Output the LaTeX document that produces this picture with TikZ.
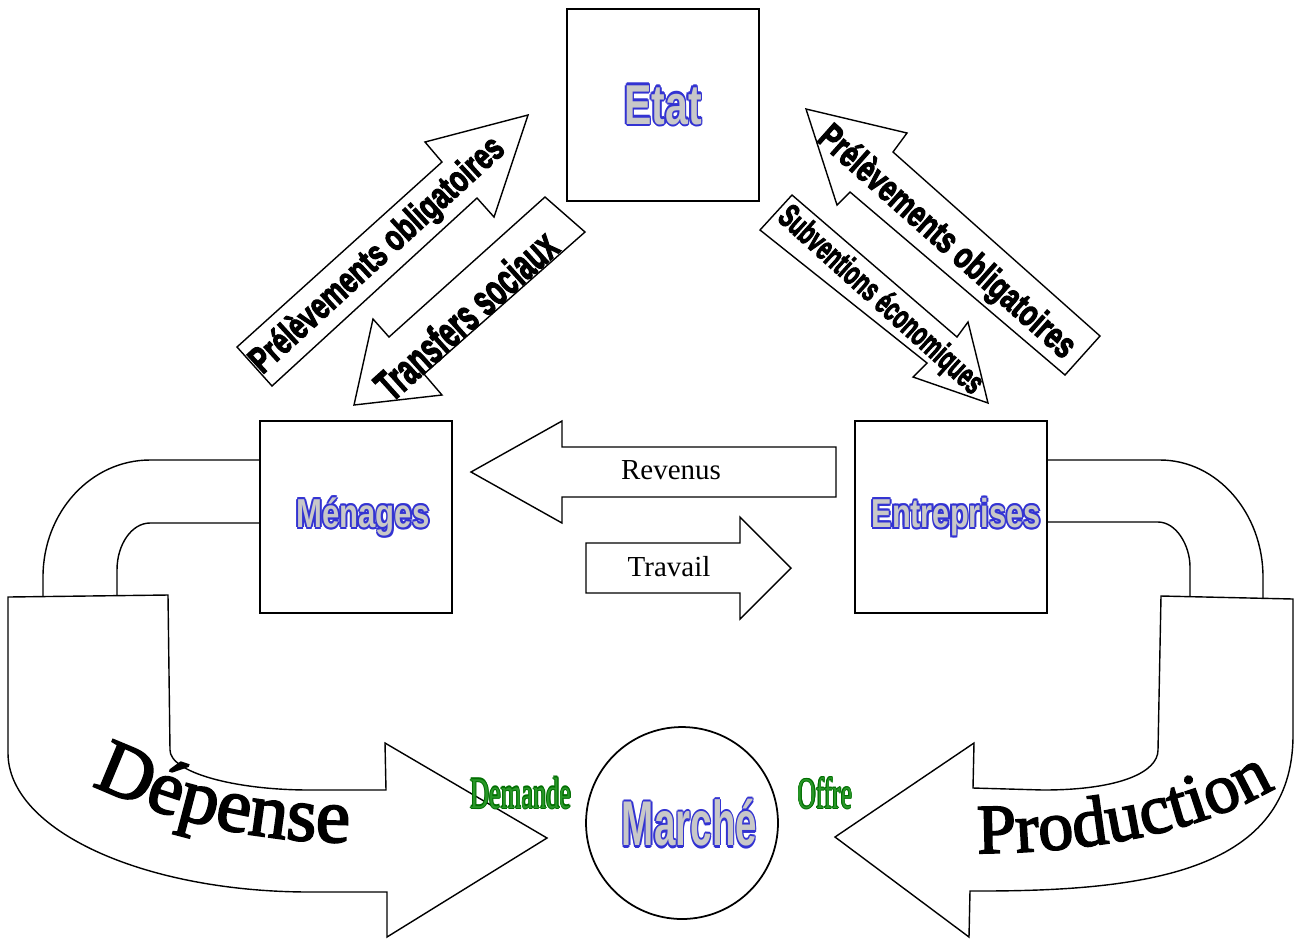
\documentclass[tikz,border=0pt]{standalone}
\usepackage{fontspec}
\usepackage{graphicx}
\setmainfont{Liberation Serif}
\newfontfamily\artin{Liberation Sans Bold}
\newfontfamily\heavyfont{Liberation Sans Bold}[FakeBold=3.5]
\newfontfamily\greenin{Liberation Serif}
\newfontfamily\curvyfont{Liberation Serif}[FakeBold=2.5]
\usetikzlibrary{decorations.text}
\definecolor{artblue}{RGB}{51,51,210}
\definecolor{artgray}{RGB}{200,200,200}
\definecolor{greenedge}{RGB}{0,110,0}
\definecolor{greenfill}{RGB}{40,150,40}

\newcommand\edgetext[5]{%
  \rlap{\color{#1}\raisebox{#3}{#5}}%
  \rlap{\color{#1}\raisebox{-#3}{#5}}%
  \rlap{\color{#1}\hspace*{#3}#5}%
  \rlap{\color{#1}\hspace*{-#3}#5}%
  \rlap{\color{#1}\hspace*{#4}\raisebox{#4}{#5}}%
  \rlap{\color{#1}\hspace*{-#4}\raisebox{#4}{#5}}%
  \rlap{\color{#1}\hspace*{#4}\raisebox{-#4}{#5}}%
  \rlap{\color{#1}\hspace*{-#4}\raisebox{-#4}{#5}}%
  {\color{#2}#5}}
\newcommand\wordart[3]{\scalebox{#2}[1]{\artin\fontsize{#1}{#1}\selectfont\edgetext{artblue}{artgray}{1.3pt}{0.9pt}{#3}}}
\newcommand\greenart[2]{\scalebox{#1}[1]{\greenin\fontsize{25}{25}\selectfont\edgetext{greenedge}{greenfill}{0.6pt}{0.4pt}{#2}}}
\newcommand\heavytext[3]{\scalebox{#2}[1]{\heavyfont\fontsize{#1}{#1}\selectfont #3}}

\tikzset{
  box/.style={draw, line width=1pt, minimum size=3.84cm, inner sep=0pt},
  flow/.style={draw, line width=0.8pt, fill=white},
}

\begin{document}
\begin{tikzpicture}[x=0.02cm,y=-0.02cm,line width=0.8pt]
    \useasboundingbox (0,0) rectangle (1295,938);

    \node[box] (etat) at (663,105) {\wordart{32}{0.73}{Etat}};
    \node[box] (menages) at (356,517) {\hspace*{0.28cm}\raisebox{-0.14cm}{\wordart{23}{0.77}{Ménages}}};
    \node[box] (entreprises) at (951,517) {\hspace*{0.2cm}\raisebox{-0.14cm}{\wordart{23}{0.76}{Entreprises}}};
    \node[draw, line width=1pt, circle, minimum size=3.84cm, inner sep=0pt] (marche) at (682,823) {\hspace*{0.3cm}\wordart{36}{0.61}{Marché}};

    \draw[flow] (836,447) -- (562,447) -- (562,421) -- (471,472) -- (562,523) -- (562,497) -- (836,497) -- cycle;
    \node (revenus) at (671,470) {\fontsize{16.5}{18}\selectfont Revenus};
    \draw[flow] (586,543) -- (740,543) -- (740,517) -- (791,568) -- (740,619) -- (740,593) -- (586,593) -- cycle;
    \node (travail) at (669,567) {\fontsize{16.5}{18}\selectfont Travail};

    \draw[flow] (237,347) -- (442,162) -- (425,142) -- (528,115) -- (494,217) -- (477,198) -- (272,386) -- cycle;
    \node[rotate=42.5] (prelmen) at (378,256) {\heavytext{21}{0.72}{Prélèvements obligatoires}};
    \draw[flow] (545,197) -- (389,337) -- (373,319) -- (354,405) -- (442,395) -- (424,374) -- (585,232) -- cycle;
    \node[rotate=42] (transferts) at (466,315) {\heavytext{25}{0.61}{Transfers sociaux}};
    \draw[flow] (806,109) -- (907,133) -- (893,152) -- (1100,336) -- (1065,375) -- (850,192) -- (837,205) -- cycle;
    \node[rotate=-41.6] (prelent) at (946,243) {\heavytext{21}{0.72}{Prélèvements obligatoires}};
    \draw[flow] (792,195) -- (957,337) -- (968,322) -- (988,403) -- (913,377) -- (927,363) -- (760,230) -- cycle;
    \node[rotate=-42] (subventions) at (880,301) {\heavytext{19}{0.62}{Subventions économiques}};

    \draw (260,460) -- (150,460) .. controls (91,460) and (43,512) .. (43,577) -- (43,597);
    \draw (260,523) -- (150,523) .. controls (132,523) and (117,544) .. (117,570) -- (117,596);
    \draw[flow] (8,597) -- (168,595) -- (170,750) .. controls (170,772) and (233,790) .. (310,790) -- (386,790) -- (385,743) -- (547,838) -- (387,937) -- (387,892) -- (310,892) .. controls (143,892) and (8,830) .. (8,753) -- cycle;
    \path[decorate, decoration={text along path, text align=center, text={|\curvyfont\fontsize{44}{44}\selectfont|Dépense}}] (78,778) .. controls (150,815) and (250,845) .. (365,842);

    \draw (1047,460) -- (1160,460) .. controls (1217,460) and (1263,513) .. (1263,577) -- (1263,599);
    \draw (1047,522) -- (1158,522) .. controls (1176,522) and (1190,545) .. (1190,567) -- (1190,596);
    \draw[flow] (1161,596) -- (1293,599) -- (1293,735) .. controls (1293,870) and (1150,891) .. (980,891) -- (970,891) -- (969,937) -- (835,837) -- (974,743) -- (973,788) -- (1043,790) .. controls (1120,790) and (1158,772) .. (1158,750) -- cycle;
    \path[decorate, decoration={text along path, text align=center, text={|\curvyfont\fontsize{40}{40}\selectfont|Production}}] (978,853) .. controls (1080,853) and (1195,835) .. (1275,788);

    \node (demande) at (521,793) {\greenart{0.6}{Demande}};
    \node (offre) at (825,793) {\greenart{0.58}{Offre}};

\end{tikzpicture}
\end{document}
